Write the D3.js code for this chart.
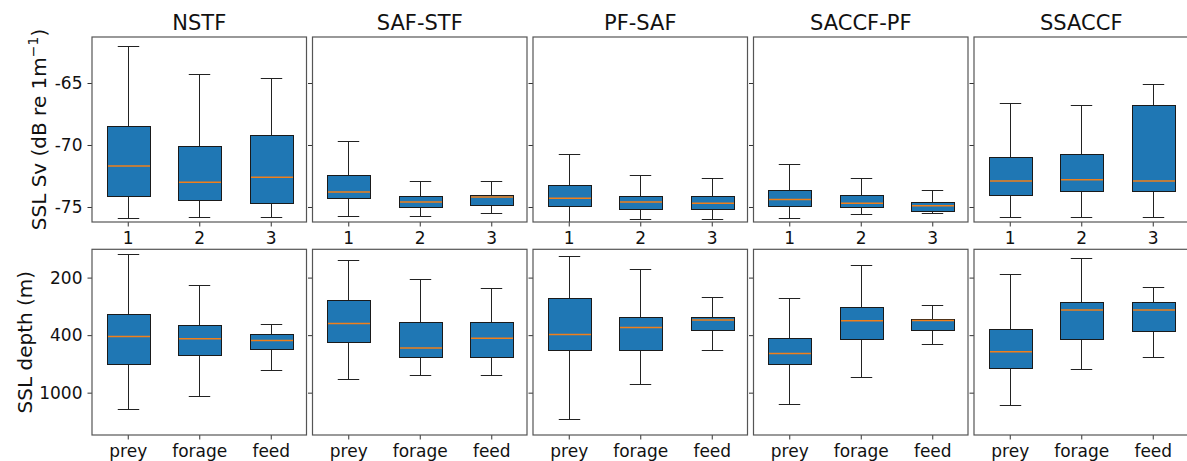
<!DOCTYPE html>
<html>
<head>
<meta charset="utf-8">
<script src="https://cdn.jsdelivr.net/npm/d3@7"></script>
<style>
  body { margin: 0; background: #fff; }
  svg { display: block; font-family: "DejaVu Sans", sans-serif; }
</style>
</head>
<body>
<svg id="chart"></svg>
<script>
const width = 1187, height = 461

const fronts = ["NSTF", "SAF-STF", "PF-SAF", "SACCF-PF", "SSACCF"]
const svCats = ["1", "2", "3"]
const depthCats = ["prey", "forage", "feed"]
const svTicks = [-65, -70, -75]
const depthTicks = [200, 400, 1000]

// [whisker low, q1, median, q3, whisker high] per front, per category
const svBoxes = [
    [[-75.9, -74.1, -71.7, -68.5, -62.0], [-75.8, -74.4, -73.0, -70.1, -64.3], [-75.8, -74.7, -72.6, -69.2, -64.6]],
    [[-75.7, -74.3, -73.8, -72.4, -69.7], [-75.7, -75.0, -74.6, -74.1, -72.9], [-75.5, -74.8, -74.2, -74.0, -72.9]],
    [[-76.6, -74.9, -74.3, -73.2, -70.7], [-76.0, -75.2, -74.6, -74.1, -72.4], [-76.0, -75.2, -74.7, -74.1, -72.7]],
    [[-75.9, -74.9, -74.4, -73.6, -71.5], [-75.6, -75.0, -74.7, -74.0, -72.7], [-75.5, -75.3, -74.9, -74.6, -73.6]],
    [[-75.8, -74.0, -72.9, -71.0, -66.6], [-75.8, -73.7, -72.8, -70.7, -66.8], [-75.8, -73.7, -72.9, -66.8, -65.1]]
]
const depthBoxes = [
    [[1398, 609, 408, 303, 157], [1061, 530, 421, 350, 216], [678, 483, 431, 393, 345]],
    [[780, 439, 343, 256, 166], [728, 546, 480, 336, 203], [728, 546, 417, 336, 223]],
    [[1724, 494, 397, 251, 160], [851, 494, 361, 316, 182], [494, 374, 328, 315, 249]],
    [[1250, 612, 520, 414, 250], [753, 419, 331, 278, 175], [450, 371, 330, 324, 274]],
    [[1276, 652, 507, 367, 193], [663, 421, 289, 262, 164], [549, 377, 289, 262, 222]]
]

const left = 92, step = 220.5, panelW = 214.5
const rows = [
    { top: 37, bottom: 222, labelX: 46 },
    { top: 249.3, bottom: 435, labelX: 32 }
]

const ySv = d3.scaleLinear().domain([-76.21, -61.29]).range([rows[0].bottom, rows[0].top])
const yDepth = d3.scalePow().exponent(-0.35).domain([150, 2540]).range([rows[1].top, rows[1].bottom])

const svg = d3.select("#chart").attr("width", width).attr("height", height)
const defs = svg.append("defs")

// snap to pixel centre so 1px lines stay crisp
const px = v => Math.round(v) + 0.5

function panel(row, col, y, boxes, cats, ticks, showYLabels) {
    const x0 = left + col * step
    const x = d3.scaleLinear().domain([0.5, 3.5]).range([x0, x0 + panelW])
    const r = rows[row]
    const id = `clip-${row}-${col}`
    defs.append("clipPath").attr("id", id)
        .append("rect").attr("x", x0).attr("y", r.top).attr("width", panelW).attr("height", r.bottom - r.top)

    const g = svg.append("g")

    const xAxis = d3.axisBottom(x).tickValues([1, 2, 3]).tickFormat((d, i) => cats[i]).tickSize(4.5).tickPadding(5.5)
    g.append("g")
        .attr("transform", `translate(0,${r.bottom})`)
        .call(xAxis)
        .call(a => a.select(".domain").remove())
        .call(a => a.selectAll("line").attr("stroke", "#333"))
        .call(a => a.selectAll("text").attr("font-size", 17).attr("fill", "#111").attr("font-family", "DejaVu Sans"))

    const yAxis = d3.axisLeft(y).tickValues(ticks).tickSize(4.5).tickPadding(5)
        .tickFormat(showYLabels ? (d => String(d)) : "")
    g.append("g")
        .attr("transform", `translate(${x0},0)`)
        .call(yAxis)
        .call(a => a.select(".domain").remove())
        .call(a => a.selectAll("line").attr("stroke", "#333"))
        .call(a => a.selectAll("text").attr("font-size", 17).attr("fill", "#111").attr("font-family", "DejaVu Sans"))

    const bw = x(1.3) - x(0.7)
    const cw = bw / 2
    const marks = g.append("g").attr("clip-path", `url(#${id})`)

    boxes.forEach((b, i) => {
        const cx = px(x(i + 1))
        const [lo, q1, med, q3, hi] = b
        const yLo = px(y(lo)), yHi = px(y(hi)), yQ1 = px(y(q1)), yQ3 = px(y(q3))
        const bx = Math.round(cx - bw / 2), bx2 = Math.round(cx + bw / 2)
        const m = marks.append("g").attr("stroke-width", 1)
        m.append("line").attr("x1", cx).attr("x2", cx).attr("y1", yLo).attr("y2", Math.max(yQ1, yQ3))
            .attr("stroke", "#222")
        m.append("line").attr("x1", cx).attr("x2", cx).attr("y1", Math.min(yQ1, yQ3)).attr("y2", yHi)
            .attr("stroke", "#222")
        m.append("line").attr("x1", cx - cw / 2).attr("x2", cx + cw / 2).attr("y1", yLo).attr("y2", yLo)
            .attr("stroke", "#222")
        m.append("line").attr("x1", cx - cw / 2).attr("x2", cx + cw / 2).attr("y1", yHi).attr("y2", yHi)
            .attr("stroke", "#222")
        m.append("rect")
            .attr("x", bx + 0.5)
            .attr("y", Math.min(yQ1, yQ3))
            .attr("width", bx2 - bx)
            .attr("height", Math.abs(yQ1 - yQ3))
            .attr("fill", "#1f77b4").attr("stroke", "#1a1a1a")
        m.append("line").attr("x1", bx + 1).attr("x2", bx2).attr("y1", y(med)).attr("y2", y(med))
            .attr("stroke", "#f07f1a").attr("stroke-width", 1.5)
    })

    g.append("rect")
        .attr("x", x0).attr("y", r.top)
        .attr("width", panelW).attr("height", r.bottom - r.top)
        .attr("fill", "none").attr("stroke", "#555").attr("stroke-width", 1.2)
}

fronts.forEach((f, c) => {
    panel(0, c, ySv, svBoxes[c], svCats, svTicks, c === 0)
    panel(1, c, yDepth, depthBoxes[c], depthCats, depthTicks, c === 0)

    svg.append("text")
        .attr("x", left + c * step + panelW / 2)
        .attr("y", 30)
        .attr("text-anchor", "middle")
        .attr("font-size", 21)
        .attr("fill", "#111")
        .text(f)
})

// y axis titles
const svLabel = svg.append("text")
    .attr("transform", `translate(${rows[0].labelX},${(rows[0].top + rows[0].bottom) / 2}) rotate(-90)`)
    .attr("text-anchor", "middle")
    .attr("font-size", 20)
    .attr("fill", "#111")
svLabel.append("tspan").text("SSL Sv (dB re 1m")
svLabel.append("tspan").attr("dy", -8).attr("font-size", 14).text("\u22121")
svLabel.append("tspan").attr("dy", 8).text(")")

svg.append("text")
    .attr("transform", `translate(${rows[1].labelX},${(rows[1].top + rows[1].bottom) / 2}) rotate(-90)`)
    .attr("text-anchor", "middle")
    .attr("font-size", 20)
    .attr("fill", "#111")
    .text("SSL depth (m)")
</script>
</body>
</html>
